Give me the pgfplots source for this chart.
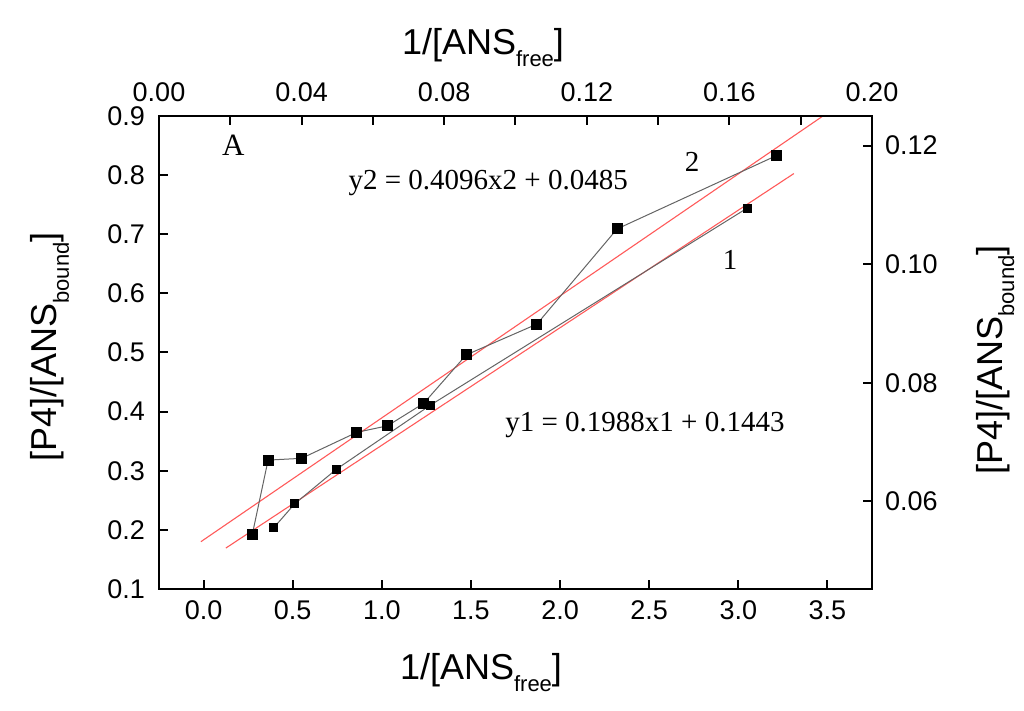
\documentclass[border=0pt]{standalone}
\usepackage{fontspec}
\setmainfont{Liberation Sans}
\newfontfamily\tnr{Liberation Serif}
\usepackage{pgfplots}
\pgfplotsset{compat=1.18}
\definecolor{fitred}{RGB}{255,90,90}
\definecolor{linkgray}{RGB}{100,100,100}
\newcommand{\lsub}[1]{\raisebox{-6pt}{\fontsize{11}{12}\selectfont #1}}
\begin{document}
\begin{tikzpicture}
\useasboundingbox (-79.5pt,-61pt) rectangle (432.5pt,294.5pt);
\pgfplotsset{
  common/.style={
    at={(0,0)}, anchor=south west, scale only axis,
    width=356.5pt, height=236.5pt,
    tick align=inside,
    major tick length=4.5pt, minor tick length=4.5pt,
    axis line style={line width=1pt,-},
    tick style={line width=1pt,black},
    tick label style={font=\fontsize{13.5}{16}\selectfont},
    /pgf/number format/assume math mode=true,
    /pgf/number format/fixed,
    /pgf/number format/fixed zerofill,
    clip=true,
  }
}
\begin{axis}[common,
  xmin=-0.25, xmax=3.75, ymin=0.1, ymax=0.9,
  xtick={0,0.5,1,1.5,2,2.5,3,3.5},
  ytick={0.1,0.2,0.3,0.4,0.5,0.6,0.7,0.8,0.9},
  xtick pos=left, ytick pos=left,
  xticklabel pos=left, yticklabel pos=left,
  xticklabel style={/pgf/number format/precision=1, yshift=-2.5pt},
  yticklabel style={/pgf/number format/precision=1, xshift=-3.5pt},
]
% linear fits
\addplot[fitred, line width=0.55pt] coordinates {(-0.015,0.180) (3.475,0.900)};
\addplot[fitred, line width=0.55pt] coordinates {(0.125,0.1692) (3.312,0.8027)};
% series 1
\addplot[linkgray, line width=0.5pt, mark=square*, mark size=2pt,
  mark options={fill=black, draw=black, solid}] coordinates {
  (0.395,0.204) (0.511,0.244) (0.745,0.3025) (1.273,0.411) (3.049,0.744)};
% series 2
\addplot[linkgray, line width=0.5pt, mark=square*, mark size=2.5pt,
  mark options={fill=black, draw=black, solid}] coordinates {
  (0.274,0.193) (0.362,0.318) (0.550,0.321) (0.860,0.365) (1.032,0.376)
  (1.235,0.414) (1.474,0.496) (1.870,0.548) (2.320,0.709) (3.214,0.833)};
\end{axis}
\begin{axis}[common,
  xmin=0, xmax=0.2, ymin=0.0452, ymax=0.125,
  xtick={0,0.04,0.08,0.12,0.16,0.2},
  minor xtick={0.02,0.06,0.10,0.14,0.18},
  ytick={0.06,0.08,0.10,0.12},
  xtick pos=right, ytick pos=right,
  xticklabel pos=right, yticklabel pos=right,
  xticklabel style={/pgf/number format/precision=2, yshift=3.5pt},
  yticklabel style={/pgf/number format/precision=2, xshift=3pt},
]
\end{axis}
% axis labels
\node[anchor=base, font=\fontsize{18}{20}\selectfont] at (161pt,-45.5pt) {1/[ANS\lsub{free}]};
\node[anchor=base, font=\fontsize{18}{20}\selectfont] at (162pt,267pt) {1/[ANS\lsub{free}]};
\node[anchor=base, rotate=90, font=\fontsize{18}{20}\selectfont] at (-51pt,121pt) {[P4]/[ANS\lsub{bound}]};
\node[anchor=base, rotate=90, font=\fontsize{18}{20}\selectfont] at (421.5pt,114.5pt) {[P4]/[ANS\lsub{bound}]};
% annotations
\node[anchor=base west, inner sep=0pt, font=\tnr\fontsize{15.5}{17}\selectfont] at (31.3pt,216.6pt) {A};
\node[anchor=base west, inner sep=0pt, font=\tnr\fontsize{14.5}{16}\selectfont] at (94.6pt,199.5pt) {y2 = 0.4096x2 + 0.0485};
\node[anchor=base west, inner sep=0pt, font=\tnr\fontsize{14.5}{16}\selectfont] at (173pt,78.6pt) {y1 = 0.1988x1 + 0.1443};
\node[anchor=base, inner sep=0pt, font=\tnr\fontsize{14.5}{16}\selectfont] at (266.5pt,208.6pt) {2};
\node[anchor=base, inner sep=0pt, font=\tnr\fontsize{14.5}{16}\selectfont] at (285.5pt,159.5pt) {1};
\end{tikzpicture}
\end{document}
